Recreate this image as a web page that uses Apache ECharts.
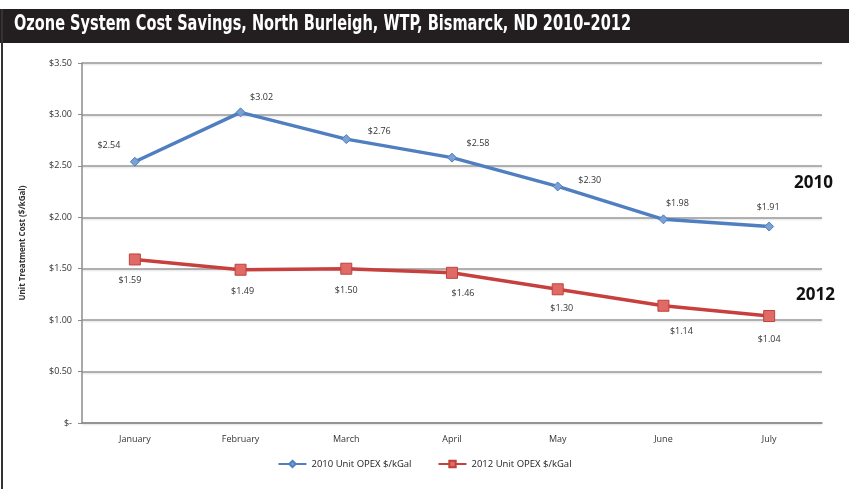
<!DOCTYPE html>
<html>
<head>
<meta charset="utf-8">
<script src="https://cdn.jsdelivr.net/npm/echarts@6/dist/echarts.min.js"></script>
<style>
  html, body { margin: 0; padding: 0; background: #fff; }
  #chart { width: 849px; height: 489px; }
</style>
</head>
<body>
<div id="chart"></div>
<script>
// Months on the category axis
const months = ['January', 'February', 'March', 'April', 'May', 'June', 'July'];

// Unit OPEX in $/kGal
const opex2010 = [2.54, 3.02, 2.76, 2.58, 2.30, 1.98, 1.91];
const opex2012 = [1.59, 1.49, 1.50, 1.46, 1.30, 1.14, 1.04];

// Value-axis ticks
const yTicks = [0, 0.5, 1.0, 1.5, 2.0, 2.5, 3.0, 3.5];
const yTickLabels = ['$-', '$0.50', '$1.00', '$1.50', '$2.00', '$2.50', '$3.00', '$3.50'];

const seriesNames = ['2010 Unit OPEX $/kGal', '2012 Unit OPEX $/kGal'];
const titleText = 'Ozone System Cost Savings, North Burleigh, WTP, Bismarck, ND 2010\u20132012';

// Where each value label sits relative to its point (px)
const offsets2010 = [[-26, -16], [21, -15], [33, -8], [26, -14], [32, -6], [14, -16], [-1, -19]];
const offsets2012 = [[-5, 21], [2, 22], [0, 22], [11, 21], [4, 19], [18, 26], [0, 23]];

const labelFont = { fontFamily: '"Open Sans", "Noto Sans", sans-serif', fontSize: 9, color: '#333' };

function withLabels(values, offsets) {
  return values.map((v, i) => ({
    value: v,
    label: { show: true, position: 'inside', offset: offsets[i] }
  }));
}

const chart = echarts.init(document.getElementById('chart'), null, { renderer: 'canvas' });

chart.setOption({
  animation: false,
  backgroundColor: '#fff',
  grid: { left: 82, right: 27, top: 63, bottom: 66 },
  legend: {
    bottom: 15,
    left: 'center',
    itemWidth: 28,
    itemHeight: 8,
    itemGap: 26,
    data: seriesNames,
    textStyle: { fontFamily: '"Open Sans", "Noto Sans", sans-serif', fontSize: 9.5, color: '#222' }
  },
  xAxis: {
    type: 'category',
    data: months,
    boundaryGap: true,
    axisLine: { lineStyle: { color: '#8c8c8c', width: 1.5 } },
    axisTick: { show: false },
    axisLabel: Object.assign({ margin: 12 }, labelFont)
  },
  yAxis: {
    type: 'value',
    min: yTicks[0],
    max: yTicks[yTicks.length - 1],
    interval: yTicks[1] - yTicks[0],
    name: 'Unit Treatment Cost ($/kGal)',
    nameLocation: 'middle',
    nameGap: 55,
    nameTextStyle: { fontFamily: '"Open Sans", "Noto Sans", sans-serif', fontSize: 8, fontWeight: 'bold', color: '#333' },
    axisLine: { show: true, lineStyle: { color: '#8c8c8c', width: 1.5 } },
    axisTick: { show: true, length: 4, lineStyle: { color: '#8c8c8c' } },
    axisLabel: Object.assign({
      margin: 10,
      formatter: v => yTickLabels[yTicks.findIndex(t => Math.abs(t - v) < 1e-9)]
    }, labelFont),
    splitLine: { lineStyle: { color: '#9a9a9a', width: 1.5, shadowColor: 'rgba(0,0,0,0.15)', shadowBlur: 2, shadowOffsetY: 1 } }
  },
  series: [
    {
      name: seriesNames[0],
      type: 'line',
      data: withLabels(opex2010, offsets2010),
      symbol: 'diamond',
      symbolSize: 9,
      lineStyle: { color: '#4f7fc0', width: 3.5 },
      itemStyle: { color: '#7aa0d4', borderColor: '#4f7fc0', borderWidth: 1 },
      label: Object.assign({ formatter: p => '$' + p.value.toFixed(2) }, labelFont),
      z: 3
    },
    {
      name: seriesNames[1],
      type: 'line',
      data: withLabels(opex2012, offsets2012),
      symbol: 'rect',
      symbolSize: 11,
      lineStyle: { color: '#c8403e', width: 3.5 },
      itemStyle: { color: '#e06a66', borderColor: '#c0403e', borderWidth: 1 },
      label: Object.assign({ formatter: p => '$' + p.value.toFixed(2) }, labelFont),
      z: 3
    }
  ],
  graphic: [
    // Heading band
    { type: 'rect', left: 0, top: 9, shape: { width: 849, height: 34 }, style: { fill: '#231f20' }, z: 10 },
    {
      type: 'text', x: 14, y: 14, scaleX: 0.77, scaleY: 1,
      style: {
        text: titleText, fill: '#fff',
        font: 'bold 21px "DejaVu Sans Condensed", sans-serif'
      },
      z: 11
    },
    // Frame on the left edge
    { type: 'rect', left: 1, top: 9, shape: { width: 2, height: 480 }, style: { fill: '#333' }, z: 10 },
    // Year tags at the right
    { type: 'text', left: 794, top: 175, style: { text: '2010', fill: '#111', font: 'bold 17px "Open Sans", sans-serif' }, z: 11 },
    { type: 'text', left: 796, top: 287, style: { text: '2012', fill: '#111', font: 'bold 17px "Open Sans", sans-serif' }, z: 11 }
  ]
});
</script>
</body>
</html>
